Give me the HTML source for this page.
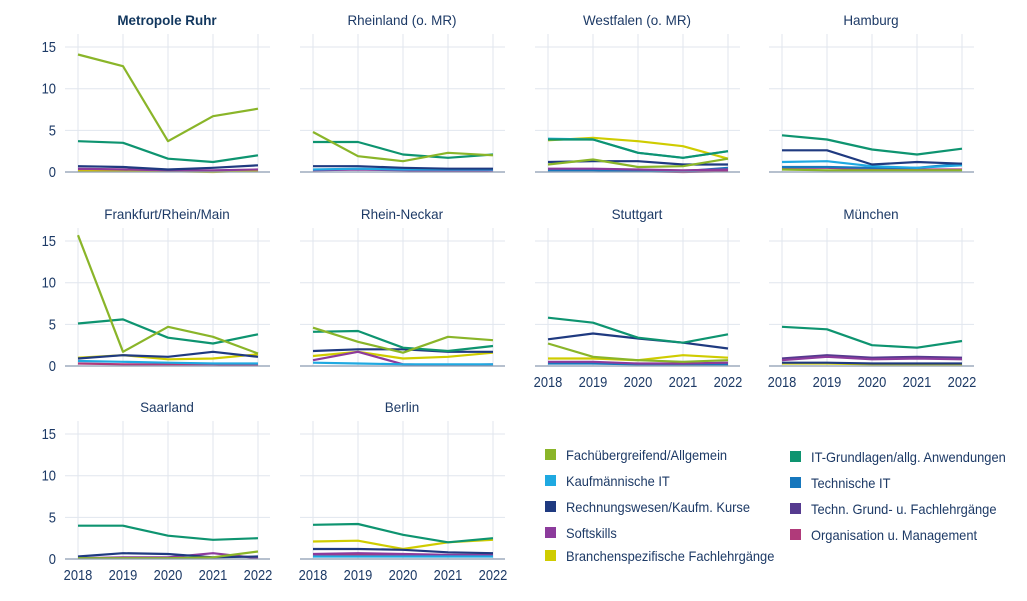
<!DOCTYPE html>
<html><head><meta charset="utf-8"><style>
html,body{margin:0;padding:0;background:#fff}
svg{display:block;font-family:"Liberation Sans Narrow","Liberation Sans",sans-serif}
</style></head><body>
<svg id="c" width="1027" height="601" viewBox="0 0 1027 601" xmlns="http://www.w3.org/2000/svg"></svg>
<script>
const C=['#8ab529','#1fa9e1','#1f3a80','#8c3b9c','#cfcc00','#0e9470','#1677bd','#553a8f','#b03a7a'];
const P=[
["Metropole Ruhr",0,0,{0:[14.1,12.7,3.7,6.7,7.6],5:[3.7,3.5,1.6,1.2,2.0],2:[0.7,0.6,0.3,0.5,0.8],3:[0.4,0.3,0.2,0.2,0.3],8:[0.3,0.3,0.2,0.1,0.2],4:[0.1,0.1,0.1,0,0.2]}],
["Rheinland (o. MR)",1,0,{0:[4.8,1.9,1.3,2.3,2.0],5:[3.6,3.6,2.1,1.7,2.1],2:[0.7,0.7,0.5,0.4,0.4],1:[0.3,0.4,0.3,0.3,0.3],3:[0.2,0.3,0.2,0.1,0.2]}],
["Westfalen (o. MR)",2,0,{1:[4.0,3.9,2.3,1.7,2.5],5:[3.9,3.9,2.3,1.7,2.5],4:[3.8,4.1,3.7,3.1,1.6],0:[0.9,1.5,0.6,0.7,1.6],2:[1.2,1.3,1.3,0.9,0.9],3:[0.4,0.4,0.3,0.2,0.3],6:[0.2,0.2,0.1,0.1,0.5],8:[0.3,0.3,0.1,0,0.1]}],
["Hamburg",3,0,{5:[4.4,3.9,2.7,2.1,2.8],2:[2.6,2.6,0.9,1.2,1.0],1:[1.2,1.3,0.7,0.5,0.8],6:[0.6,0.6,0.5,0.5,1.0],8:[0.5,0.5,0.3,0.3,0.3],0:[0.3,0.2,0.2,0.2,0.2]}],
["Frankfurt/Rhein/Main",0,1,{0:[15.7,1.7,4.7,3.5,1.5],5:[5.1,5.6,3.4,2.7,3.8],2:[0.9,1.3,1.1,1.7,1.1],4:[1.0,1.3,0.8,0.9,1.4],1:[0.6,0.5,0.4,0.3,0.3],8:[0.3,0.2,0.2,0.2,0.1]}],
["Rhein-Neckar",1,1,{0:[4.6,2.9,1.6,3.5,3.1],5:[4.1,4.2,2.2,1.8,2.4],2:[1.8,2.0,2.0,1.7,1.7],4:[1.2,1.7,0.9,1.1,1.6],3:[0.7,1.7,0.2,0.1,0.2],1:[0.4,0.3,0.2,0.2,0.2]}],
["Stuttgart",2,1,{5:[5.8,5.2,3.4,2.8,3.8],2:[3.2,3.9,3.3,2.8,2.1],0:[2.7,1.1,0.7,0.5,0.7],4:[0.9,0.9,0.7,1.3,1.0],3:[0.5,0.5,0.3,0.3,0.4],6:[0.3,0.3,0.2,0.2,0.2]}],
["München",3,1,{5:[4.7,4.4,2.5,2.2,3.0],7:[0.9,1.3,1.0,1.1,1.0],3:[0.7,1.1,0.8,0.9,0.8],4:[0.3,0.3,0.2,0.2,0.2],2:[0.4,0.4,0.3,0.3,0.3]}],
["Saarland",0,2,{5:[4.0,4.0,2.8,2.3,2.5],2:[0.3,0.7,0.6,0.2,0.3],3:[0.1,0.2,0.2,0.7,0.1],0:[0.1,0.1,0.1,0.2,0.9]}],
["Berlin",1,2,{5:[4.1,4.2,2.9,2.0,2.5],4:[2.1,2.2,1.2,2.0,2.3],2:[1.2,1.2,1.1,0.8,0.7],3:[0.6,0.7,0.6,0.5,0.5],8:[0.4,0.5,0.4,0.4,0.4],1:[0.3,0.3,0.3,0.3,0.3]}]
];
const cx=[0,235,470,704], cy=[172,366,559];
let h='';
for(const [t,c,r,d] of P){
 const ox=cx[c], z=cy[r];
 const X=i=>78+ox+i*45, Y=v=>z-v*8.33;
 for(let i=0;i<5;i++) h+=`<line x1="${X(i)}" x2="${X(i)}" y1="${z-138}" y2="${z}" stroke="#e1e6ee" stroke-width="1"/>`;
 for(const v of [5,10,15]) h+=`<line x1="${65+ox}" x2="${270+ox}" y1="${Y(v)}" y2="${Y(v)}" stroke="#e1e6ee"/>`;
 if(c==0) for(const v of [0,5,10,15]) h+=`<text class="sq" x="56" y="${Y(v)+5}" text-anchor="end" font-size="15" fill="#1d3a66">${v}</text>`;
 const tc=(c==0&&r==0)?'font-weight="bold" fill="#12375e"':'fill="#1d3a66"';
 h+=`<text class="tt" x="${167+ox}" y="${z-147}" text-anchor="middle" font-size="14" ${tc}>${t}</text>`;
 for(const k of [8,7,6,4,3,1,2,5,0]) if(d[k]) h+=`<polyline fill="none" stroke="${C[k]}" stroke-width="2.2" stroke-linejoin="round" points="${d[k].map((v,i)=>X(i)+','+Y(v).toFixed(1)).join(' ')}"/>`;
 h+=`<line x1="${65+ox}" x2="${270+ox}" y1="${z}" y2="${z}" stroke="#8a9bb0" stroke-width="1.3"/>`;
 if(r==2||(r==1&&c>=2)) for(let i=0;i<5;i++) h+=`<text class="sq" x="${X(i)}" y="${z+21}" text-anchor="middle" font-size="15" fill="#1d3a66">${2018+i}</text>`;
}
const L=[[0,545,455,'Fachübergreifend/Allgemein'],[1,545,481,'Kaufmännische IT'],[2,545,507,'Rechnungswesen/Kaufm. Kurse'],[3,545,533,'Softskills'],[4,545,556,'Branchenspezifische Fachlehrgänge'],
[5,790,457,'IT-Grundlagen/allg. Anwendungen'],[6,790,483,'Technische IT'],[7,790,509,'Techn. Grund- u. Fachlehrgänge'],[8,790,535,'Organisation u. Management']];
for(const [k,x,y,t] of L){h+=`<rect x="${x}" y="${y-6}" width="11" height="11" fill="${C[k]}"/><text class="lg" x="${x+21}" y="${y+5}" font-size="14" fill="#1d3a66">${t}</text>`;}
const svg=document.getElementById('c');
svg.innerHTML=h;
const sc={sq:0.86,tt:0.96,lg:0.92};
for(const cl in sc) for(const el of svg.querySelectorAll('text.'+cl)){
 const w=el.getComputedTextLength();
 if(w>0){el.setAttribute('textLength',(w*sc[cl]).toFixed(1));el.setAttribute('lengthAdjust','spacingAndGlyphs');}
}
</script>
</body></html>
